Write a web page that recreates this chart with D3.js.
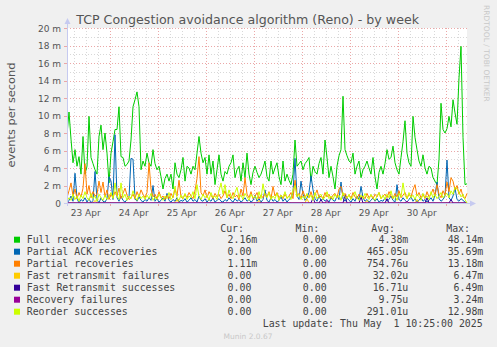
<!DOCTYPE html>
<html><head><meta charset="utf-8">
<script src="https://cdn.jsdelivr.net/npm/d3@7/dist/d3.min.js"></script>
<style>
html,body{margin:0;padding:0;background:#F0F0F0;}
svg{display:block;}
text{white-space:pre;}
</style></head>
<body>
<svg id="c" width="497" height="347"></svg>
<script>
// ---- data (values in milli-events per second, hourly samples) ----
const seriesNames = ["Full recoveries","Partial ACK recoveries","Partial recoveries","Fast retransmit failures","Fast Retransmit successes","Recovery failures","Reorder successes"];
const seriesColors = ["#00CC00","#0066B3","#FF8000","#FFCC00","#330099","#990099","#CCFF00"];
const curVals = ["2.16m","0.00","1.11m","0.00","0.00","0.00","0.00"];
const minVals = ["0.00","0.00","0.00","0.00","0.00","0.00","0.00"];
const avgVals = ["4.38m","465.05u","754.76u","32.02u","16.71u","9.75u","291.01u"];
const maxVals = ["48.14m","35.69m","13.18m","6.47m","6.49m","3.24m","12.98m"];
const yTicks = [0,2,4,6,8,10,12,14,16,18,20];
const lastUpdate = "Last update: Thu May  1 10:25:00 2025";

const fullRec = [7.8,10.4,7.3,4.6,6.1,4.2,5.3,3.3,7.6,3.3,
4.2,9.9,5.2,4.5,3.8,3.3,7.6,8.9,6.1,8.0,
5.7,2.3,5.7,7.0,8.4,8.4,11.0,5.3,5.2,4.2,
4.4,4.8,7.2,11.0,11.8,12.7,11.0,3.8,4.8,4.2,
5.7,4.6,4.2,6.1,4.5,3.8,4.2,3.0,1.6,2.8,
3.3,2.5,3.3,1.6,4.6,3.3,2.9,3.8,5.2,2.5,
4.2,4.0,3.3,4.2,3.8,5.7,7.6,5.7,4.6,5.2,
3.3,5.5,3.3,4.8,2.1,3.8,5.5,3.3,2.5,3.6,
3.3,4.2,4.6,5.5,2.9,3.8,4.2,2.5,4.6,2.9,
5.7,3.3,2.1,3.5,4.2,3.5,2.9,3.3,4.0,4.8,
3.0,2.5,4.8,3.3,4.0,4.6,3.0,2.1,4.8,2.5,
3.3,2.6,2.1,3.3,7.2,4.2,4.5,4.8,3.8,4.5,
4.8,5.2,2.5,4.2,3.6,3.3,4.5,5.2,3.3,7.2,
5.2,2.9,4.2,3.0,1.6,4.2,5.4,6.1,12.2,6.1,
5.4,4.8,4.6,5.7,3.3,4.2,4.8,2.9,3.8,4.2,
4.8,4.0,3.3,5.2,3.0,1.6,3.5,4.2,3.3,4.5,
6.1,5.0,5.2,6.5,4.6,3.8,3.3,5.2,7.0,9.4,
5.7,4.6,4.2,9.9,7.5,6.1,4.8,4.2,5.5,4.0,
3.3,4.2,4.0,2.9,2.5,2.1,5.0,11.4,8.4,8.0,
8.5,9.9,8.7,11.8,10.3,9.0,14.3,17.9,7.5,2.1,
2.2];

const partialAck = [0,0.3,0.8,0.2,3.4,0.5,0,0.4,0.2,0.6,
0.1,0.5,0,0.3,3.6,0.4,0,0.6,0.2,0.1,
0.5,3.0,2.5,0.4,7.8,0.6,0.2,0.8,0.3,0.1,
0.4,0.6,5.1,5.0,0.5,0.2,0.7,0.3,0.1,0.4,
0.2,0.6,0.3,2.0,0.2,0.5,0.1,0.3,0.6,0.2,
1.1,0.3,0.1,0.4,0.2,0.6,0.1,0.3,0.2,0.5,
0.1,0.3,0.6,0.2,0.4,0.1,0.8,0.3,0.2,0.5,
0.1,0.4,0.2,0.6,0.1,0.3,0.5,0.2,0.1,0.4,
0.2,0.6,0.3,0.1,0.5,0.2,0.4,0.1,0.3,0.6,
0.2,0.4,0.1,0.3,0.9,0.2,0.5,0.1,0.4,1.5,
0.3,0.1,0.6,0.2,0.4,0.1,0.3,0.7,0.2,0.5,
0.1,0.4,0.6,1.2,5.1,0.8,0.4,2.5,1.0,0.3,
0.6,1.2,3.1,1.5,0.5,0.2,0.8,0.3,0.5,0.2,
0.4,0.1,0.6,0.3,0.2,0.8,0.4,2.4,0.5,0.2,
0.6,0.3,0.1,0.5,0.2,0.8,0.4,1.9,0.6,0.2,
0.4,0.1,0.3,0.6,0.2,0.5,0.1,0.3,0.2,0.6,
0.2,0.4,0.8,0.3,0.1,2.1,0.4,0.2,0.6,0.3,
0.1,0.4,0.7,0.2,0.5,0.1,0.3,0.6,0.2,0.4,
0.1,0.3,0.6,0.2,0.9,2.4,0.5,0.2,0.4,0.8,
4.9,0.6,0.3,0.8,1.7,0.4,0.2,0.5,0.3,0.1,
0];

const partialRec = [0.6,1.4,2.3,0.8,1.6,0.5,1.2,0.7,1.7,4.5,
1.0,2.0,0.6,1.3,0.8,1.0,2.5,1.2,2.4,0.7,
1.5,0.4,1.0,0.6,1.3,0.8,1.7,0.5,1.1,1.7,
0.9,0.4,0.6,1.0,0.5,1.3,0.7,1.5,1.0,0.6,
1.2,4.6,1.6,0.7,1.0,0.5,1.3,0.6,0.8,0.4,
0.9,0.5,1.1,0.6,1.6,0.8,2.6,0.7,0.5,1.0,
0.6,1.2,0.8,0.5,1.4,2.8,5.3,1.2,0.8,1.5,
0.6,1.3,0.9,0.5,1.1,0.7,1.0,0.5,0.8,1.4,
0.6,1.0,0.5,1.2,0.7,0.9,0.4,1.6,0.8,2.9,
1.0,0.6,1.3,0.5,0.8,1.2,0.5,0.9,0.6,1.1,
0.7,1.3,0.5,1.9,0.8,1.2,0.6,0.9,0.5,1.0,
0.6,0.8,1.2,0.5,2.6,0.8,1.1,0.5,1.4,0.7,
1.0,0.6,1.3,0.5,0.9,1.5,0.6,0.8,0.5,1.2,
0.7,1.0,0.5,0.9,1.1,0.6,1.6,1.9,0.8,1.1,
0.6,0.9,0.5,1.2,0.7,0.5,1.0,0.6,0.8,0.5,
1.1,0.6,0.9,0.5,1.0,0.7,1.2,0.5,0.8,1.0,
0.6,1.3,0.8,0.5,1.1,0.7,1.4,0.6,0.9,1.2,
0.5,1.0,0.7,1.5,2.1,0.8,1.2,0.6,1.0,0.5,
1.3,0.7,1.0,1.6,0.8,2.1,1.0,0.6,1.4,0.9,
2.4,1.3,2.9,2.5,1.5,2.0,1.0,1.6,0.7,0.5,
1.1];

const fastRetransFail = [0,0,0,0,0,0,0,0,0,0,
0,0,0,0,0.3,0,0,0,0,0,
0,0,0,0,0,0,0,0,0,0,
0,0,0,0,0,0,0,0,0,0,
0,0,0,0,0,0,0,0,0,0,
0,0,0,0,0,0.4,0,0,0,0,
0,0,0,0,0,0,0,0,0,0,
0,0,0,0,0,0,0,0,0,0,
0,0,0,0,0,0,0,0,0,0,
0,0,0,0,0,0,0.3,0,0,0,
0,0,0,0,0,0,0,0,0,0,
0,0,0,0,0,0,0,0,0,0,
0.5,0,0,0,0,0,0,0,0,0,
0,0,0,0,0,0,0,0,0,0,
0,0,0,0,0,0,0,0,0,0,
0.3,0,0,0,0,0,0,0,0,0,
0,0,0,0,0,0,0,0,0,0,
0,0,0,0,0,0.4,0,0,0,0,
0,0,0,0,0,0,0,0,0,0,
0,0,0,0,0,0,0,0,0,0,
0];

const fastRetransSucc = [0,0,0,0,0,0,0,0,0,0,
0,0,0,0,0,0,0,0,0,0,
0,0,0,0,0,0,0,0,0,0,
0,0,0,0,0,0,0,0,0,0,
0,0,0,0,0,0,0,0,0,0,
0,0,0,0,0,0,0,0,0,0,
0,0,0,0,0,0,0,0,0,0,
0,0,0,0,0,0,0,0,0,0,
0,0,0,0,0,0,0,0,0,0,
0,0,0,0,0,0,0,0,0,0,
0,0,0,0,0,0,0,0,0,0,
0,0,0,0,0,0,0,0,0,0,
0,0,0,0.6,0,0,0,0.4,0,0,
0,0,0,0,0,0,0,0,0,0.9,
0,0,0,0,0,0,0,0.7,0,0,
0,0,0,0,0,0,0,0,0,0,
0.5,0,0,0,0,0,0,0,0,0,
0,0,0,0,0,0,0,0,0,0,
0.6,0,0,0,0,0,0,0,0,0,
0,0,0.4,0,0,0,0,0,0,0,
0];

const recoveryFail = [0,0,0,0,0,0,0,0,0,0,
0,0,0,0,0,0,0,0,0,0,
0,0,0,0,0,0,0,0,0,0,
0,0,0,0,0,0,0,0,0,0,
0,0,0,0,0,0,0,0,0,0,
0,0,0,0,0,0,0,0,0,0,
0,0,0,0,0,0,0,0,0,0,
0,0,0,0,0,0,0,0,0,0,
0,0,0,0,0,0,0,0,0,0,
0,0,0,0,0,0,0,0,0,0,
0,0,0,0,0,0,0,0,0,0,
0,0,0,0,0,0,0,0,0,0,
0,0,0,0,0,0,0,0,0,0,
0.3,0,0,0,0,0,0,0,0,0,
0,0,0,0,0,0,0,0,0,0,
0,0,0,0,0,0,0,0,0,0,
0,0,0,0,0,0,0,0,0,0,
0.2,0,0,0,0,0,0,0,0,0,
0,0,0,0,0,0,0,0,0,0,
0,0,0,0,0,0,0,0,0,0,
0];

const reorderSucc = [0.2,0.6,0.3,1.0,0.4,0.8,0.2,0.9,0.5,1.3,
0.6,0.3,1.1,0.5,0.8,0.2,1.0,0.6,0.3,0.9,
0.4,0.7,1.2,0.5,2.3,0.8,0.4,2.3,0.6,1.0,
0.3,0.8,0.5,1.4,0.7,0.3,1.0,0.5,0.8,0.4,
0.9,0.5,1.1,0.3,0.7,0.4,1.0,0.6,0.3,0.8,
0.5,1.2,0.4,0.7,1.9,0.6,0.3,0.9,0.5,1.1,
0.4,0.8,0.6,1.3,0.5,2.1,0.7,0.4,1.0,0.6,
0.9,0.3,1.2,0.6,0.8,0.4,1.4,2.3,1.0,2.1,
0.6,1.5,0.8,0.5,1.2,1.8,0.6,0.9,0.4,1.1,
0.7,0.3,1.0,0.6,0.8,0.4,1.3,0.5,2.2,0.9,
0.6,1.2,0.4,0.8,0.5,1.1,0.3,0.9,0.6,1.3,
0.5,0.8,0.4,1.5,2.0,0.7,1.0,0.4,0.8,0.5,
1.1,0.6,0.9,0.3,1.2,0.5,0.8,1.0,0.4,0.7,
1.3,0.5,0.8,0.4,1.0,0.6,0.9,0.3,1.2,0.7,
0.5,1.0,0.4,0.8,1.3,0.6,0.3,0.9,0.5,1.1,
0.7,0.4,1.0,0.6,0.3,0.8,1.2,0.5,0.9,0.4,
1.0,0.6,1.4,0.5,0.8,0.3,1.1,0.7,2.3,0.9,
0.5,1.2,0.6,0.9,0.4,1.0,0.7,0.3,1.1,0.6,
0.8,0.4,1.3,0.6,1.0,0.5,0.8,1.2,0.6,0.9,
1.1,0.6,1.4,1.0,1.8,1.6,1.2,0.7,1.0,0.4,
0];

const allSeries = [fullRec, partialAck, partialRec, fastRetransFail, fastRetransSucc, recoveryFail, reorderSucc];

// ---- time frame ----
const startTime = Date.UTC(2025,3,23,2,40);
const endTime = startTime + 200*3600e3;

// ---- drawing ----
const svg = d3.select("#c");
const L=67, R=467, T=28, B=203;
const x = d3.scaleUtc().domain([startTime,endTime]).range([L,R]);
const y = d3.scaleLinear().domain([0,20]).range([B,T]);

svg.append("rect").attr("x",L).attr("y",T).attr("width",R-L).attr("height",B-T).attr("fill","#FFFFFF");

const grid = svg.append("g").attr("shape-rendering","crispEdges");
d3.range(1,20,2).forEach(v=>{
  grid.append("line").attr("x1",L).attr("x2",R).attr("y1",Math.round(y(v))+0.5).attr("y2",Math.round(y(v))+0.5)
   .attr("stroke","#D8D8D8").attr("stroke-dasharray","1,2");
});
d3.utcHour.every(6).range(new Date(startTime), new Date(endTime)).forEach(t=>{
  if (t.getUTCHours()===0) return;
  const px = Math.round(x(t))+0.5;
  grid.append("line").attr("x1",px).attr("x2",px).attr("y1",T).attr("y2",B)
   .attr("stroke","#D8D8D8").attr("stroke-dasharray","1,2");
});
yTicks.filter(v=>v>0).forEach(v=>{
  grid.append("line").attr("x1",L).attr("x2",R).attr("y1",Math.round(y(v))+0.5).attr("y2",Math.round(y(v))+0.5)
   .attr("stroke","#EBA7A7").attr("stroke-dasharray","1,2");
  grid.append("line").attr("x1",L-3).attr("x2",L).attr("y1",Math.round(y(v))+0.5).attr("y2",Math.round(y(v))+0.5)
   .attr("stroke","#EBA7A7");
});
const days = d3.utcDay.range(new Date(startTime), new Date(endTime));
days.forEach(t=>{
  const px = Math.round(x(t))+0.5;
  grid.append("line").attr("x1",px).attr("x2",px).attr("y1",T).attr("y2",B)
   .attr("stroke","#EBA7A7").attr("stroke-dasharray","1,2");
  grid.append("line").attr("x1",px).attr("x2",px).attr("y1",B).attr("y2",B+3)
   .attr("stroke","#EBA7A7");
});

svg.append("clipPath").attr("id","pc").append("rect").attr("x",L).attr("y",T-2).attr("width",R-L+1).attr("height",B-T+3);
const line = d3.line().x((d,i)=>x(startTime+i*3600e3)).y(d=>y(d));
const lines = svg.append("g").attr("clip-path","url(#pc)");
allSeries.forEach((s,i)=>{
  lines.append("path").attr("d",line(s)).attr("fill","none").attr("stroke",seriesColors[i]).attr("stroke-width",1);
});

const axisCol = "#C6CAF0";
svg.append("line").attr("x1",L+0.5).attr("x2",L+0.5).attr("y1",B+3).attr("y2",T-5).attr("stroke",axisCol).attr("shape-rendering","crispEdges");
svg.append("path").attr("d",`M${L-2.5},${T-4} L${L+3.5},${T-4} L${L+0.5},${T-10} Z`).attr("fill",axisCol);
svg.append("line").attr("x1",L-3).attr("x2",R+4).attr("y1",B+0.5).attr("y2",B+0.5).attr("stroke",axisCol).attr("shape-rendering","crispEdges");
svg.append("path").attr("d",`M${R+3},${B-2.5} L${R+3},${B+3.5} L${R+9},${B+0.5} Z`).attr("fill",axisCol);

const font = "DejaVu Sans, sans-serif";
yTicks.forEach(v=>{
  svg.append("text").attr("x",61).attr("y",y(v)+3.5).attr("text-anchor","end")
   .attr("font-family",font).attr("font-size",9).attr("fill","#555")
   .text(v===0?"0":v+" m");
});
function dayLabel(noon){
  svg.append("text").attr("x",x(noon)).attr("y",216).attr("text-anchor","middle")
   .attr("font-family",font).attr("font-size",9).attr("fill","#555")
   .text(d3.utcFormat("%-d %b")(new Date(noon)));
}
{
  const first = startTime - (startTime % 86400000);
  const noon = first + 12*3600e3;
  if (noon>startTime) dayLabel(noon);
}
days.forEach(t=>{
  const noon = t.getTime()+12*3600e3;
  if (noon<=endTime) dayLabel(noon);
});

// fit helper: scale font so text reaches target width
function fit(sel, base, target){
  const w = sel.node().getComputedTextLength();
  if (w>0) sel.attr("font-size", base*target/w);
}
const title = svg.append("text").attr("x",247.6).attr("y",24).attr("text-anchor","middle")
  .attr("font-family",font).attr("font-size",12).attr("fill","#555")
  .text("TCP Congestion avoidance algorithm (Reno) - by week");
fit(title,12,343);
const yl = svg.append("text").attr("transform","translate(15,115) rotate(-90)").attr("text-anchor","middle")
  .attr("font-family",font).attr("font-size",10).attr("fill","#555")
  .text("events per second");
fit(yl,10,105);
const cred = svg.append("text").attr("transform","translate(484,5) rotate(90)").attr("text-anchor","start")
  .attr("font-family",font).attr("font-size",7.5).attr("fill","#C8C8C8")
  .text("RRDTOOL / TOBI OETIKER");
fit(cred,7.5,97);

const mono = "DejaVu Sans Mono, monospace";
const fs = 9.9, cw = 5.96;
const colEnds = [257.3, 332.6, 408.3, 483.3];
const headers = ["Cur:","Min:","Avg:","Max:"];
headers.forEach((h,j)=>{
  svg.append("text").attr("x",colEnds[j]-13.3).attr("y",232).attr("text-anchor","end")
   .attr("font-family",mono).attr("font-size",fs).attr("fill","#444").text(h);
});
const cols = [curVals,minVals,avgVals,maxVals];
seriesNames.forEach((n,i)=>{
  const cy = 239.7 + 12*i;
  svg.append("rect").attr("x",14).attr("y",cy-3).attr("width",6).attr("height",6).attr("fill",seriesColors[i]);
  svg.append("text").attr("x",26.7).attr("y",cy+3.5).attr("font-family",mono).attr("font-size",fs).attr("fill","#444").text(n);
  cols.forEach((c,j)=>{
    const v = c[i];
    const hasSuffix = /[a-zA-Z]$/.test(v);
    svg.append("text").attr("x",colEnds[j]-(hasSuffix?0:cw)).attr("y",cy+3.5).attr("text-anchor","end")
     .attr("font-family",mono).attr("font-size",fs).attr("fill","#444").text(v);
  });
});
svg.append("text").attr("x",482.7).attr("y",327.3).attr("text-anchor","end")
  .attr("font-family",mono).attr("font-size",fs).attr("fill","#444").text(lastUpdate);
const mun = svg.append("text").attr("x",248).attr("y",338.5).attr("text-anchor","middle")
  .attr("font-family",font).attr("font-size",7.5).attr("fill","#C8C8C8").text("Munin 2.0.67");
fit(mun,7.5,49);
</script>
</body></html>
